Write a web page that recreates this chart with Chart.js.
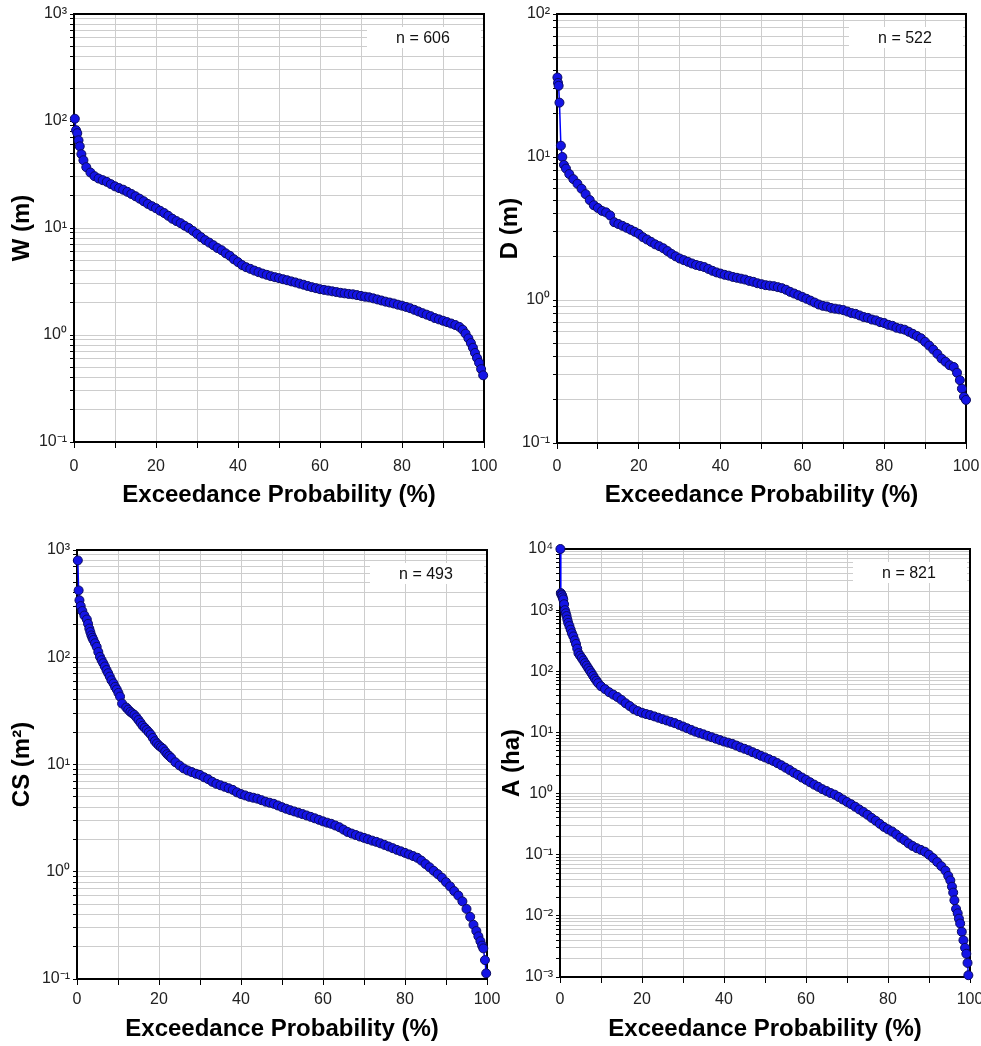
<!DOCTYPE html>
<html>
<head>
<meta charset="utf-8">
<script src="https://cdn.jsdelivr.net/npm/chart.js@4.4.0/dist/chart.umd.min.js"></script>
<style>
  body { margin: 0; background: #fff; overflow: hidden; }
  canvas { position: absolute; }
</style>
</head>
<body>
<canvas id="chartW" width="505" height="520" style="left:0;top:0"></canvas>
<canvas id="chartD" width="491" height="520" style="left:490px;top:0"></canvas>
<canvas id="chartCS" width="505" height="526" style="left:0;top:520px"></canvas>
<canvas id="chartA" width="495" height="526" style="left:490px;top:520px"></canvas>
<script>
// exceedance probability (%) and values
var wProb = [0.2, 0.5, 0.8, 1.1, 1.4, 1.8, 2.3, 3, 4, 5, 6, 7, 8, 9, 10, 11, 12, 13, 14, 15, 16, 17, 18, 19, 20, 21, 22, 23, 24, 25, 26, 27, 28, 29, 30, 31, 32, 33, 34, 35, 36, 37, 38, 39, 40, 41, 42, 43, 44, 45, 46, 47, 48, 49, 50, 51, 52, 53, 54, 55, 56, 57, 58, 59, 60, 61, 62, 63, 64, 65, 66, 67, 68, 69, 70, 71, 72, 73, 74, 75, 76, 77, 78, 79, 80, 81, 82, 83, 84, 85, 86, 87, 88, 89, 90, 91, 92, 93, 94, 94.8, 95.5, 96.2, 96.8, 97.3, 97.8, 98.3, 98.8, 99.3, 99.8];
var wVal = [105, 82, 77, 66, 58, 49, 43, 37, 33, 30.5, 29, 28, 27, 25.7, 24.5, 23.6, 22.8, 21.8, 20.8, 19.8, 18.8, 17.8, 16.8, 16, 15.3, 14.5, 13.8, 13, 12.2, 11.6, 11.1, 10.5, 10, 9.4, 8.8, 8.2, 7.7, 7.3, 6.9, 6.5, 6.2, 5.8, 5.5, 5.1, 4.8, 4.5, 4.3, 4.15, 4.0, 3.87, 3.75, 3.65, 3.55, 3.47, 3.4, 3.32, 3.25, 3.17, 3.1, 3.02, 2.95, 2.87, 2.8, 2.74, 2.68, 2.64, 2.6, 2.56, 2.52, 2.48, 2.45, 2.42, 2.4, 2.36, 2.32, 2.28, 2.25, 2.2, 2.15, 2.1, 2.05, 2.01, 1.97, 1.92, 1.88, 1.83, 1.78, 1.72, 1.66, 1.6, 1.55, 1.5, 1.44, 1.4, 1.36, 1.32, 1.28, 1.24, 1.19, 1.12, 1.03, 0.93, 0.84, 0.76, 0.68, 0.61, 0.55, 0.48, 0.42];

var dProb = [0.1, 0.25, 0.4, 0.6, 0.95, 1.3, 1.7, 2.2, 3, 4, 5, 6, 7, 8, 9, 10, 11, 12, 13, 14, 15, 16, 17, 18, 19, 20, 21, 22, 23, 24, 25, 26, 27, 28, 29, 30, 31, 32, 33, 34, 35, 36, 37, 38, 39, 40, 41, 42, 43, 44, 45, 46, 47, 48, 49, 50, 51, 52, 53, 54, 55, 56, 57, 58, 59, 60, 61, 62, 63, 64, 65, 66, 67, 68, 69, 70, 71, 72, 73, 74, 75, 76, 77, 78, 79, 80, 81, 82, 83, 84, 85, 86, 87, 88, 89, 90, 91, 92, 93, 94, 95, 96, 97, 97.8, 98.5, 99, 99.5, 100];
var dVal = [36, 33, 31.5, 24, 12, 10, 8.8, 8.3, 7.6, 7.0, 6.5, 6.0, 5.5, 5.0, 4.6, 4.4, 4.2, 4.1, 3.9, 3.5, 3.4, 3.3, 3.2, 3.1, 3.0, 2.9, 2.75, 2.65, 2.55, 2.45, 2.38, 2.3, 2.2, 2.1, 2.02, 1.95, 1.9, 1.85, 1.8, 1.76, 1.73, 1.7, 1.65, 1.6, 1.56, 1.53, 1.5, 1.48, 1.45, 1.43, 1.41, 1.39, 1.36, 1.34, 1.31, 1.29, 1.27, 1.26, 1.25, 1.23, 1.21, 1.18, 1.14, 1.11, 1.08, 1.05, 1.02, 0.99, 0.96, 0.93, 0.91, 0.9, 0.88, 0.87, 0.86, 0.85, 0.83, 0.81, 0.8, 0.78, 0.76, 0.75, 0.73, 0.72, 0.7, 0.69, 0.67, 0.66, 0.64, 0.63, 0.62, 0.6, 0.58, 0.56, 0.54, 0.51, 0.48, 0.45, 0.42, 0.39, 0.37, 0.35, 0.34, 0.31, 0.275, 0.24, 0.21, 0.2];

var csProb = [0.2, 0.4, 0.6, 0.9, 1.3, 1.8, 2.4, 2.7, 3, 3.25, 3.5, 3.75, 4, 4.4, 4.8, 5.2, 5.6, 6, 6.4, 6.8, 7.2, 7.6, 8, 8.4, 8.9, 9.3, 9.7, 10.1, 10.5, 11, 12, 12.5, 13, 13.5, 14, 14.5, 15, 15.5, 16, 16.5, 17, 17.5, 18, 18.5, 19, 19.5, 20, 20.5, 21, 21.5, 22, 22.5, 23, 24, 25, 26, 27, 28, 29, 30, 31, 32, 33, 34, 35, 36, 37, 38, 39, 40, 41, 42, 43, 44, 45, 46, 47, 48, 49, 50, 51, 52, 53, 54, 55, 56, 57, 58, 59, 60, 61, 62, 63, 64, 65, 66, 67, 68, 69, 70, 71, 72, 73, 74, 75, 76, 77, 78, 79, 80, 81, 82, 83, 84, 85, 86, 87, 88, 89, 90, 91, 92, 93, 94, 95, 95.9, 96.7, 97.4, 97.9, 98.4, 98.8, 99.1, 99.5, 99.8];
var csVal = [800, 420, 340, 300, 270, 245, 225, 205, 185, 172, 160, 152, 145, 135, 125, 112, 101, 94, 88, 82, 76, 71, 66, 61, 57, 53, 50, 46.5, 43, 37, 34, 32.5, 31, 30, 29, 27.5, 26, 24.5, 23, 22, 21, 20, 19, 17.7, 16.5, 15.7, 15, 14.5, 14, 13.2, 12.5, 12, 11.5, 10.5, 9.8, 9.2, 8.8, 8.5, 8.2, 8.0, 7.6, 7.3, 6.9, 6.6, 6.4, 6.2, 6.0, 5.8, 5.5, 5.3, 5.15, 5.0, 4.9, 4.8, 4.65, 4.5, 4.4, 4.3, 4.15, 4.0, 3.87, 3.75, 3.65, 3.55, 3.45, 3.35, 3.25, 3.15, 3.05, 2.95, 2.87, 2.8, 2.7, 2.6, 2.47, 2.35, 2.27, 2.2, 2.13, 2.07, 2.01, 1.95, 1.9, 1.84, 1.78, 1.72, 1.66, 1.6, 1.55, 1.5, 1.45, 1.4, 1.35, 1.27, 1.18, 1.1, 1.02, 0.95, 0.88, 0.8, 0.73, 0.66, 0.6, 0.53, 0.45, 0.38, 0.32, 0.28, 0.25, 0.225, 0.205, 0.193, 0.15, 0.113];

var aProb = [0.1, 0.2, 0.35, 0.5, 0.65, 0.8, 1.0, 1.2, 1.4, 1.6, 1.8, 2, 2.3, 2.6, 2.9, 3.25, 3.6, 3.9, 4.2, 4.5, 4.9, 5.3, 5.7, 6.1, 6.5, 6.9, 7.3, 7.7, 8.1, 8.5, 8.9, 9.3, 10, 11, 12, 13, 14, 15, 16, 17, 18, 19, 20, 21, 22, 23, 24, 25, 26, 27, 28, 29, 30, 31, 32, 33, 34, 35, 36, 37, 38, 39, 40, 41, 42, 43, 44, 45, 46, 47, 48, 49, 50, 51, 52, 53, 54, 55, 56, 57, 58, 59, 60, 61, 62, 63, 64, 65, 66, 67, 68, 69, 70, 71, 72, 73, 74, 75, 76, 77, 78, 79, 80, 81, 82, 83, 84, 85, 86, 87, 88, 89, 90, 91, 92, 93, 94, 94.7, 95.2, 95.6, 95.9, 96.2, 96.6, 97, 97.3, 97.6, 98, 98.4, 98.8, 99.1, 99.4, 99.6];
var aVal = [10000, 1900, 1800, 1750, 1620, 1500, 1250, 1000, 890, 800, 700, 620, 550, 480, 420, 372, 320, 280, 235, 198, 180, 165, 150, 136, 124, 112, 102, 93, 84, 76, 70, 64, 57, 51, 45.5, 41.5, 38, 34, 30, 27, 24, 22.3, 21, 20, 19.2, 18.3, 17.4, 16.5, 15.7, 14.9, 14.2, 13.3, 12.5, 11.7, 11, 10.3, 9.8, 9.3, 8.8, 8.35, 7.9, 7.5, 7.1, 6.8, 6.5, 6.1, 5.7, 5.4, 5.1, 4.75, 4.45, 4.15, 3.9, 3.65, 3.42, 3.15, 2.9, 2.65, 2.43, 2.2, 2.02, 1.83, 1.68, 1.53, 1.4, 1.29, 1.18, 1.1, 1.02, 0.96, 0.88, 0.8, 0.73, 0.67, 0.61, 0.55, 0.5, 0.45, 0.4, 0.36, 0.32, 0.285, 0.26, 0.24, 0.215, 0.19, 0.173, 0.153, 0.139, 0.128, 0.12, 0.112, 0.1, 0.088, 0.076, 0.065, 0.055, 0.045, 0.038, 0.03, 0.024, 0.018, 0.013, 0.011, 0.009, 0.0075, 0.0055, 0.004, 0.003, 0.0024, 0.0017, 0.00107];

var sampleSizes = [606, 522, 493, 821];
var yTitles = ['W (m)', 'D (m)', 'CS (m\u00b2)', 'A (ha)'];
var xTitle = 'Exceedance Probability (%)';
var xTickLabels = ['0', '20', '40', '60', '80', '100'];
var wTicks = ['10\u207b\u00b9', '10\u2070', '10\u00b9', '10\u00b2', '10\u00b3'];
var dTicks = ['10\u207b\u00b9', '10\u2070', '10\u00b9', '10\u00b2'];
var csTicks = ['10\u207b\u00b9', '10\u2070', '10\u00b9', '10\u00b2', '10\u00b3'];
var aTicks = ['10\u207b\u00b3', '10\u207b\u00b2', '10\u207b\u00b9', '10\u2070', '10\u00b9', '10\u00b2', '10\u00b3', '10\u2074'];

var FONT = '"Liberation Sans", Arial, sans-serif';

// white box with the sample size, plus top/right frame lines
var framePlugin = {
  id: 'frame',
  beforeDatasetsDraw: function(chart, args, opts) {
    var a = chart.chartArea, ctx = chart.ctx;
    ctx.save();
    var bw = 114, bh = 21, bx = a.right - bw - 3, by = a.top + 13;
    ctx.fillStyle = '#fff';
    ctx.fillRect(bx, by, bw, bh);
    ctx.fillStyle = '#111';
    ctx.font = '16px ' + FONT;
    ctx.textAlign = 'center';
    ctx.textBaseline = 'middle';
    ctx.fillText(opts.text, bx + bw / 2 - 1, by + bh / 2 + 1);
    ctx.strokeStyle = '#000';
    ctx.lineWidth = 2;
    ctx.beginPath();
    ctx.moveTo(a.left, a.top);
    ctx.lineTo(a.right, a.top);
    ctx.lineTo(a.right, a.bottom);
    ctx.stroke();
    ctx.restore();
  }
};

function makeChart(id, prob, vals, idx, tickLabels, lay) {
  var minExp = lay.minExp, maxExp = minExp + tickLabels.length - 1;
  var pts = prob.map(function(p, k) { return {x: p, y: vals[k]}; });
  return new Chart(document.getElementById(id), {
    type: 'line',
    data: {
      datasets: [{
        data: pts,
        borderColor: '#0000ff',
        borderWidth: 1.5,
        backgroundColor: '#1414e6',
        pointBackgroundColor: '#1414e6',
        pointBorderColor: '#0a0a60',
        pointBorderWidth: 1,
        pointRadius: 4.5,
        tension: 0,
        fill: false,
        clip: false
      }]
    },
    options: {
      responsive: false,
      animation: false,
      layout: { padding: { top: lay.top, right: lay.right, left: 0, bottom: 0 } },
      plugins: {
        legend: { display: false },
        tooltip: { enabled: false },
        frame: { text: 'n = ' + sampleSizes[idx] }
      },
      scales: {
        x: {
          type: 'linear',
          min: 0,
          max: 100,
          afterFit: function(s) { s.height = lay.xh; s.paddingLeft = 0; s.paddingRight = 0; },
          ticks: {
            stepSize: 10,
            autoSkip: false,
            maxRotation: 0,
            padding: lay.xTickPad,
            color: '#222',
            font: { family: FONT, size: 16 },
            callback: function(v) { return v % 20 === 0 ? xTickLabels[v / 20] : ''; }
          },
          grid: { color: '#cdcdcd', lineWidth: 1, tickColor: '#000', tickLength: 6 },
          border: { color: '#000', width: 2 },
          title: {
            display: true, text: xTitle, color: '#000',
            font: { family: FONT, size: 24, weight: 'bold' },
            padding: { top: 0, bottom: lay.xTitlePad }
          }
        },
        y: {
          type: 'logarithmic',
          min: Math.pow(10, minExp),
          max: Math.pow(10, maxExp),
          afterFit: function(s) { s.width = lay.yw; s.paddingTop = 0; s.paddingBottom = 0; },
          afterBuildTicks: function(s) {
            var t = [];
            for (var e = minExp; e <= maxExp; e++) {
              for (var m = 1; m <= 9; m++) {
                if (e === maxExp && m > 1) break;
                t.push({ value: parseFloat((m * Math.pow(10, e)).toPrecision(6)), major: m === 1 });
              }
            }
            s.ticks = t;
          },
          ticks: {
            autoSkip: false,
            padding: 3,
            color: '#222',
            font: { family: FONT, size: 16 },
            callback: function(v) {
              var e = Math.round(Math.log10(v));
              if (Math.abs(v / Math.pow(10, e) - 1) < 1e-6) return tickLabels[e - minExp];
              return '';
            }
          },
          grid: { color: '#cdcdcd', lineWidth: 1, tickColor: '#000', tickLength: 4 },
          border: { color: '#000', width: 2 },
          title: {
            display: true, text: yTitles[idx], color: '#000',
            font: { family: FONT, size: 24, weight: 'bold' },
            padding: { top: lay.yTitlePad, bottom: 0 }
          }
        }
      }
    },
    plugins: [framePlugin]
  });
}

makeChart('chartW', wProb, wVal, 0, wTicks, { minExp: -1, top: 14, right: 21, yw: 74, xh: 78, xTickPad: 9, xTitlePad: 10, yTitlePad: 8 });
makeChart('chartD', dProb, dVal, 1, dTicks, { minExp: -1, top: 14, right: 15, yw: 67, xh: 77, xTickPad: 8, xTitlePad: 10, yTitlePad: 6 });
makeChart('chartCS', csProb, csVal, 2, csTicks, { minExp: -1, top: 30, right: 18, yw: 77, xh: 67, xTickPad: 5, xTitlePad: 2, yTitlePad: 8 });
makeChart('chartA', aProb, aVal, 3, aTicks, { minExp: -3, top: 29, right: 15, yw: 70, xh: 69, xTickPad: 7, xTitlePad: 2, yTitlePad: 8 });
</script>
</body>
</html>
